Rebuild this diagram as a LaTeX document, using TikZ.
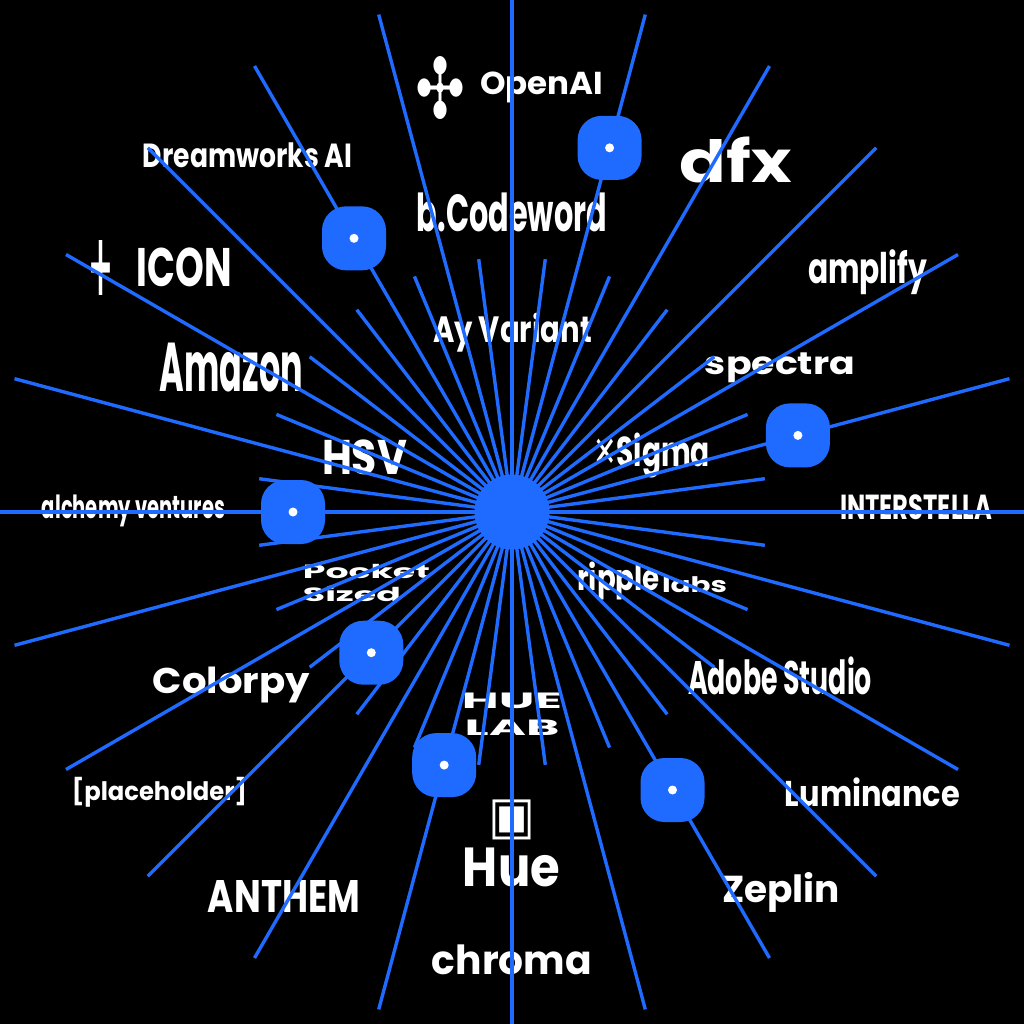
\documentclass[tikz,border=0pt]{standalone}
\usepackage{fontspec}
\usepackage{graphicx}
\newfontfamily\lblfont{Poppins}
\newfontfamily\symfont{DejaVu Sans}
\definecolor{raycol}{HTML}{1F6BFF}
\tikzset{
  rayline/.style={draw=raycol, line width=3.4pt},
  hubnode/.style={circle, fill=raycol, minimum size=75pt, inner sep=0pt},
  sqnode/.style={rectangle, rounded corners=24pt, fill=raycol, minimum size=64pt, inner sep=0pt},
  dotnode/.style={circle, fill=white, minimum size=9pt, inner sep=0pt},
  lbl/.style={text=white, inner sep=0pt, font=\lblfont\bfseries},
}
\newcommand\lab[6]{\node[lbl] (#1) at ({(#2+#4)/2},{(#3+#5)/2}) {\resizebox*{\dimexpr #4pt-#2pt\relax}{\dimexpr #5pt-#3pt\relax}{#6}};}
\begin{document}
\begin{tikzpicture}[x=1pt,y=-1pt]
\path[use as bounding box, fill=black] (0,0) rectangle (1024,1024);
\coordinate (c) at (512,512);
% labels
\lab{l1a}{415}{57}{465}{120}{\symfont ✣}
\lab{l1}{480}{72}{603}{103}{OpenAI}
\lab{l2}{143}{143}{352}{168}{Dreamworks AI}
\lab{l3a}{88}{240}{113}{295}{\symfont +}
\lab{l3}{137}{248}{232}{287}{ICON}
\lab{l4}{160}{343}{303}{392}{Amazon}
\lab{l5}{322}{440}{407}{475}{HSV}
\lab{l6}{42}{495}{225}{527}{alchemy ventures}
\lab{l7}{303}{562}{430}{608}{\begin{tabular}{@{}l@{}}Pocket\\Sized\end{tabular}}
\lab{l8}{153}{667}{310}{703}{Colorpy}
\lab{l9}{72}{777}{247}{807}{[placeholder]}
\lab{l10}{208}{880}{360}{912}{ANTHEM}
\lab{l11}{432}{945}{592}{975}{chroma}
\lab{l12a}{488}{800}{535}{840}{\symfont ▣}
\lab{l12}{463}{848}{560}{887}{Hue}
\lab{l13}{462}{690}{562}{743}{\begin{tabular}{@{}c@{}}HUE\\LAB\end{tabular}}
\lab{l14}{722}{872}{840}{912}{Zeplin}
\lab{l15}{785}{778}{960}{807}{Luminance}
\lab{l16}{688}{657}{872}{695}{Adobe Studio}
\lab{l17}{577}{562}{660}{600}{ripple}
\lab{l17b}{662}{577}{727}{593}{labs}
\lab{l18}{840}{495}{992}{520}{INTERSTELLA}
\lab{l19}{593}{433}{710}{478}{{\symfont ✕}Sigma}
\lab{l20}{705}{353}{855}{383}{spectra}
\lab{l21}{808}{250}{927}{295}{amplify}
\lab{l22}{680}{137}{792}{183}{dfx}
\lab{l23}{417}{193}{607}{232}{b.Codeword}
\lab{l24}{433}{313}{592}{352}{Ay Variant}
% rays
\begin{scope}
\clip (0,0) rectangle (1024,1024);
\foreach \k in {0,...,23}{
  \pgfmathsetmacro\a{15*\k}
  \pgfmathsetmacro\b{15*\k+7.5}
  \coordinate (L\k) at ({512+515*sin(\a)},{512-515*cos(\a)});
  \coordinate (S\k) at ({512+255*sin(\b)},{512-255*cos(\b)});
  \draw[rayline] (c) -- (L\k);
  \draw[rayline] (c) -- (S\k);
}
\end{scope}
\node[hubnode] (hub) at (c) {};
% nodes on rays
\foreach \n/\ang/\r in {1/15/377, 2/330/316, 3/75/296, 4/270/219, 5/225/199, 6/195/262, 7/150/321}{
  \node[sqnode] (n\n) at ({512+\r*sin(\ang)},{512-\r*cos(\ang)}) {};
  \node[dotnode] (d\n) at (n\n) {};
}
\end{tikzpicture}
\end{document}
